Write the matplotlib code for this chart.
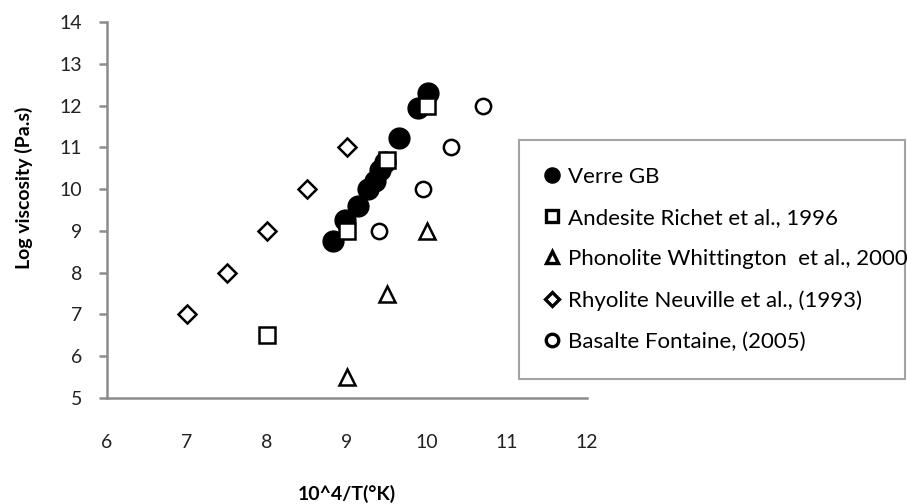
import matplotlib
matplotlib.use("Agg")
import matplotlib.pyplot as plt

plt.rcParams['font.family'] = ['Lato', 'DejaVu Sans']

# data
verre_x = [8.83, 8.98, 9.14, 9.26, 9.35, 9.41, 9.47, 9.65, 9.89, 10.01]
verre_y = [8.75, 9.25, 9.6, 10.0, 10.2, 10.45, 10.65, 11.22, 11.95, 12.3]
andes_x = [8, 9, 9.5, 10]
andes_y = [6.5, 9, 10.7, 12]
phono_x = [9, 9.5, 10]
phono_y = [5.5, 7.5, 9]
rhyo_x = [7, 7.5, 8, 8.5, 9]
rhyo_y = [7, 8, 9, 10, 11]
basal_x = [9.4, 9.95, 10.3, 10.7]
basal_y = [9, 10, 11, 12]

labels = ['Verre GB', 'Andesite Richet et al., 1996', 'Phonolite Whittington  et al., 2000',
          'Rhyolite Neuville et al., (1993)', 'Basalte Fontaine, (2005)']

fig = plt.figure(figsize=(9.07, 5.04), dpi=100)
ax = fig.add_axes([0.118, 0.2103, 0.529, 0.746])

grey = '#8c8c8c'
ew = 1.8
h1, = ax.plot(verre_x, verre_y, 'o', color='black', markersize=15, zorder=2, label=labels[0])
h2, = ax.plot(andes_x, andes_y, 's', mfc='white', mec='black', mew=ew, markersize=12, zorder=3, label=labels[1])
h3, = ax.plot(phono_x, phono_y, '^', mfc='white', mec='black', mew=ew, markersize=12, zorder=3, label=labels[2])
h4, = ax.plot(rhyo_x, rhyo_y, 'D', mfc='white', mec='black', mew=ew, markersize=9, zorder=3, label=labels[3])
h5, = ax.plot(basal_x, basal_y, 'o', mfc='white', mec='black', mew=ew, markersize=11, zorder=3, label=labels[4])

ax.set_xlim(6, 12)
ax.set_ylim(5, 14)
ax.set_xticks(range(6, 13))
ax.set_yticks(range(5, 15))
for s in ['top', 'right']:
    ax.spines[s].set_visible(False)
for s in ['left', 'bottom']:
    ax.spines[s].set_color(grey)
    ax.spines[s].set_linewidth(1.8)
ax.tick_params(axis='y', colors=grey, width=1.8, length=6, labelcolor='#222222', labelsize=14, pad=12)
ax.tick_params(axis='x', colors=grey, width=1.8, length=0, labelcolor='#222222', labelsize=14, pad=26)

ax.set_xlabel('10^4/T(°K)', fontsize=14, fontweight='bold', labelpad=24)
ax.set_ylabel('Log viscosity (Pa.s)', fontsize=14, fontweight='bold', labelpad=16)
ax.yaxis.set_label_coords(-0.155, 0.56)

leg = fig.legend(handles=[h1, h2, h3, h4, h5], loc='center left',
                 bbox_to_anchor=(0.572, 0.234, 0.4256, 0.502), bbox_transform=fig.transFigure,
                 fontsize=16, handlelength=0.6, handletextpad=0.4,
                 labelspacing=0.95, borderpad=1.2, fancybox=False, frameon=True,
                 mode='expand', borderaxespad=0)
for lh, ms in zip(leg.legend_handles, [9.5, 9, 9, 7, 9]):
    lh.set_markersize(ms)
    lh.set_markeredgewidth(2.4)
leg.get_frame().set_edgecolor(grey)
leg.get_frame().set_linewidth(1.5)

fig.savefig('out.png', dpi=100)
